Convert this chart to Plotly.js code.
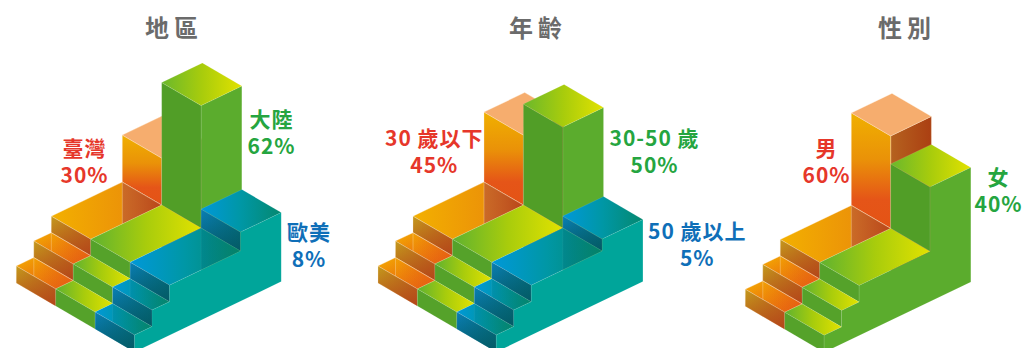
<!DOCTYPE html>
<html><head><meta charset="utf-8">
<script src="https://cdn.plot.ly/plotly-3.0.1.min.js"></script>
<style>html,body{margin:0;padding:0;background:#fff;overflow:hidden}#c{width:1025px;height:348px}</style>
</head><body><div id="c"></div>
<script>
// ---- data ----
const panelTitles = ['地區', '年齡', '性別'];
const regionLabels = ['臺灣', '大陸', '歐美'];
const regionShares = [30, 62, 8];
const regionTowers = [97, 172.5, 69];
const ageLabels = ['30 歲以下', '30-50 歲', '50 歲以上'];
const ageShares = [45, 50, 5];
const ageTowers = [120, 151, 62];
const genderLabels = ['男', '女'];
const genderShares = [60, 40];
const genderTowers = [142.5, 114.5];
const stepHeights = [17, 33.5, 50];
const stepEdges = [0, 17.5, 35, 106, 146.7];

const origins = [[16.3, 283], [378, 283], [745.3, 306.3]];
const titleCentres = [171.7, 535, 904];
const labelSpots = [
  [[84.5, 160], [271, 131], [308.5, 244]],
  [[434, 150], [654.5, 150], [697, 243]],
  [[826.5, 160], [998.5, 189]]
];
const VX = 39.4, VY = 23, USLOPE = 0.48;

const themes = {
  orange: {
    text: '#e6372a',
    tread: [['#f3b000', '#e8840c'], ['#f5b000', '#e8700f']],
    treadShade: [null, [[0, 'rgba(230,80,20,0)'], [1, 'rgba(228,80,22,0.65)']]],
    riser: ['#c49a1c', '#bb6a1c'],
    riserShade: [[0, 'rgba(180,60,25,0)'], [1, 'rgba(178,58,24,0.75)']],
    top: ['#f6ad6e', '#f6ad6e'],
    left: [[0, '#f0b000'], [0.4, '#ea9208'], [0.75, '#e55518'], [1, '#e45315']],
    right: ['#b5621f', '#ab3f12'],
    over: [['rgba(245,180,0,0.18)', 'rgba(228,85,25,0.06)'], ['rgba(180,80,60,0.6)', 'rgba(170,50,30,0.75)']]
  },
  green: {
    text: '#25a540',
    tread: [['#5fb230', '#a8cc0c', '#e2e200'], ['#5fb230', '#a8cc0c', '#e2e200']],
    treadShade: [null, null],
    riser: ['#55a22a', '#55a22a'],
    riserShade: null,
    top: ['#6ab82c', '#a8cc0c', '#e2e200'],
    left: [[0, '#519e27'], [1, '#519e27']],
    right: ['#5bac2d', '#5bac2d'],
    over: null
  },
  blue: {
    text: '#0f6fb8',
    tread: [['#0098d9', '#0097a5', '#05886f'], ['#0098d9', '#0097a5', '#05886f']],
    treadShade: [null, null],
    riser: ['#0a7fb6', '#056f80'],
    riserShade: [[0, 'rgba(3,85,95,0)'], [1, 'rgba(3,85,95,0.8)']],
    top: ['#0098d9', '#0097a5', '#05886f'],
    left: [[0, '#0a7fb6'], [1, '#056f80']],
    right: ['#00a59a', '#00a59a'],
    over: [['rgba(0,110,120,0.18)', 'rgba(5,130,100,0.4)'], ['rgba(0,120,130,0.4)', 'rgba(5,130,100,0.8)']]
  }
};

const panels = [
  {towers: regionTowers, labels: regionLabels, shares: regionShares, cols: ['orange', 'green', 'blue']},
  {towers: ageTowers, labels: ageLabels, shares: ageShares, cols: ['orange', 'green', 'blue']},
  {towers: genderTowers, labels: genderLabels, shares: genderShares, cols: ['orange', 'green']}
];

const traces = [];
function scale(colors) {
  return colors.map((c, i) => [i / (colors.length - 1), c]);
}
function poly(pts, opts) {
  const xs = pts.map(p => p[0]).concat(pts[0][0]);
  const ys = pts.map(p => p[1]).concat(pts[0][1]);
  const t = {type: 'scatter', mode: 'lines', x: xs, y: ys, fill: 'toself', hoverinfo: 'skip', showlegend: false,
    line: {width: opts.edge ? 0.7 : 0, color: opts.edge || 'rgba(0,0,0,0)'}, fillcolor: 'rgba(0,0,0,0)'};
  if (opts.vertical) {
    const lo = Math.min.apply(null, ys), hi = Math.max.apply(null, ys);
    t.fillgradient = {type: 'vertical', colorscale: opts.vertical, start: lo, stop: hi};
  } else {
    t.fillgradient = {type: 'horizontal', colorscale: scale(opts.colors)};
  }
  traces.push(t);
}

panels.forEach((panel, pi) => {
  const [ox, oy] = origins[pi];
  const pt = (u, v, h) => [ox + u + VX * v, oy - USLOPE * u + VY * v - h];
  const nCols = panel.cols.length;
  panel.cols.forEach((name, v) => {
    const th = themes[name];
    const edge = name === 'orange' ? 'rgba(255,235,210,0.45)' : 'rgba(255,255,255,0.14)';
    const tower = panel.towers[v];
    const u3 = stepEdges[3], u4 = stepEdges[4];
    const last = v === nCols - 1;
    if (!last) {
      poly([pt(u3, v + 1, tower), pt(u4, v + 1, tower), pt(u4, v + 1, 0), pt(u3, v + 1, 0)], {colors: th.right, edge});
    }
    poly([pt(u3, v, tower), pt(u3, v + 1, tower), pt(u3, v + 1, stepHeights[2]), pt(u3, v, stepHeights[2])],
      name === 'orange' ? {vertical: th.left, edge} : {colors: th.left.map(c => c[1]), edge});
    if (th.riserShade && name === 'blue') {
      poly([pt(u3, v, tower), pt(u3, v + 1, tower), pt(u3, v + 1, stepHeights[2]), pt(u3, v, stepHeights[2])], {vertical: th.riserShade});
    }
    poly([pt(u3, v, tower), pt(u4, v, tower), pt(u4, v + 1, tower), pt(u3, v + 1, tower)], {colors: th.top, edge});
    for (let k = 2; k >= 0; k--) {
      const a = stepEdges[k], b = stepEdges[k + 1], h = stepHeights[k], below = k ? stepHeights[k - 1] : 0;
      const treadPts = [pt(a, v, h), pt(b, v, h), pt(b, v + 1, h), pt(a, v + 1, h)];
      poly(treadPts, {colors: th.tread[k === 2 ? 0 : 1], edge});
      const shade = th.treadShade[k === 2 ? 0 : 1];
      if (shade) poly(treadPts, {vertical: shade});
      if (th.over) {
        const w = b - a;
        const o = w >= VX
          ? [pt(b, v, h), pt(b, v + 1, h), pt(b - VX, v + 1, h)]
          : [pt(b, v, h), pt(b, v + 1, h), pt(a, v + 1, h), pt(a, v + w / VX, h)];
        poly(o, {colors: th.over[k === 2 ? 1 : 0], edge: name === 'orange' ? edge : 'rgba(255,255,255,0.08)'});
      }
      const riserPts = [pt(a, v, h), pt(a, v + 1, h), pt(a, v + 1, below), pt(a, v, below)];
      poly(riserPts, {colors: th.riser, edge});
      if (th.riserShade) poly(riserPts, {vertical: th.riserShade});
    }
    if (last) {
      const f = v + 1;
      const outline = [pt(0, f, 0), pt(0, f, stepHeights[0]), pt(stepEdges[1], f, stepHeights[0]),
        pt(stepEdges[1], f, stepHeights[1]), pt(stepEdges[2], f, stepHeights[1]),
        pt(stepEdges[2], f, stepHeights[2]), pt(u3, f, stepHeights[2]),
        pt(u3, f, tower), pt(u4, f, tower), pt(u4, f, 0)];
      poly(outline, {colors: th.right, edge: 'rgba(255,255,255,0.1)'});
    }
  });
});

const annotations = [];
panelTitles.forEach((t, i) => annotations.push({
  x: titleCentres[i] + 2.5, y: 26, xref: 'x', yref: 'y', text: t, showarrow: false, xanchor: 'center', yanchor: 'middle',
  font: {family: '"Noto Sans CJK TC"', size: 24, weight: 700, color: '#6b6b6b'}
}));
panels.forEach((panel, pi) => panel.labels.forEach((lab, i) => annotations.push({
  x: labelSpots[pi][i][0], y: labelSpots[pi][i][1], xref: 'x', yref: 'y',
  text: lab + '<br>' + panel.shares[i] + '%', showarrow: false, xanchor: 'center', yanchor: 'middle', align: 'center',
  font: {family: '"Noto Sans CJK TC"', size: 21, weight: 700, color: themes[panel.cols[i]].text}
})));

const axis = {visible: false, fixedrange: true};
Plotly.newPlot('c', traces, {
  width: 1025, height: 348, margin: {l: 0, r: 0, t: 0, b: 0},
  paper_bgcolor: '#fff', plot_bgcolor: '#fff', showlegend: false,
  xaxis: Object.assign({range: [0, 1025]}, axis),
  yaxis: Object.assign({range: [348, 0]}, axis),
  annotations: annotations
}, {displayModeBar: false, staticPlot: true}).then(() => {
  document.querySelectorAll('.annotation-text').forEach(el => {
    el.style.letterSpacing = parseFloat(el.style.fontSize) > 22 ? '5px' : '1px';
  });
});
</script></body></html>
